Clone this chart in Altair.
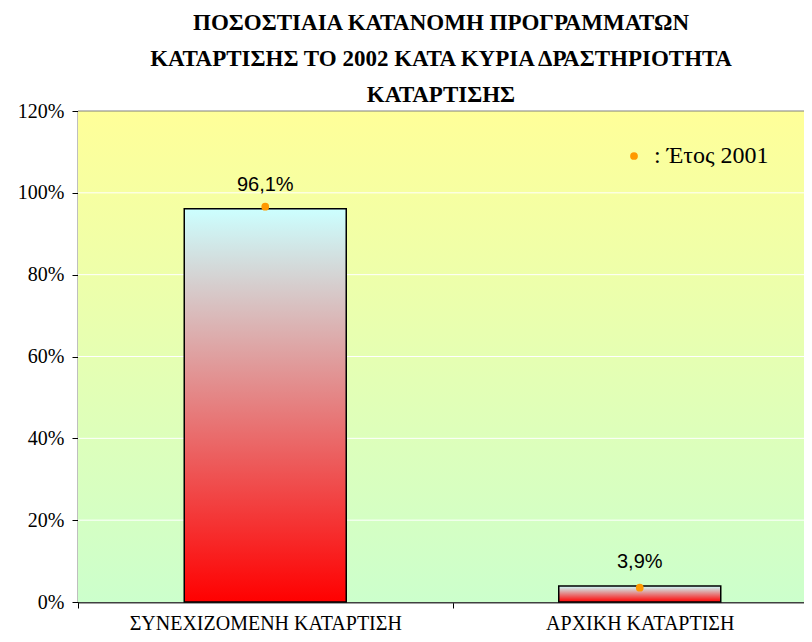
import altair as alt
import pandas as pd

# ---- data ----
categories = ["ΣΥΝΕΧΙΖΟΜΕΝΗ ΚΑΤΑΡΤΙΣΗ", "ΑΡΧΙΚΗ ΚΑΤΑΡΤΙΣΗ"]
share_2002 = [0.961, 0.039]
share_2001 = [0.966, 0.035]
value_labels = ["96,1%", "3,9%"]
y_ticks = [0.0, 0.2, 0.4, 0.6, 0.8, 1.0, 1.2]
grid_values = [0.2, 0.4, 0.6, 0.8, 1.0, 1.2]
series_2001 = ": Έτος 2001"
title_lines = [
    "ΠΟΣΟΣΤΙΑΙΑ ΚΑΤΑΝΟΜΗ ΠΡΟΓΡΑΜΜΑΤΩΝ",
    "ΚΑΤΑΡΤΙΣΗΣ ΤΟ 2002 ΚΑΤΑ ΚΥΡΙΑ ΔΡΑΣΤΗΡΙΟΤΗΤΑ",
    "ΚΑΤΑΡΤΙΣΗΣ",
]

df = pd.DataFrame({
    "cat": categories,
    "v2002": share_2002,
    "v2001": share_2001,
    "label": value_labels,
    "series": [series_2001] * len(categories),
})
grid_df = pd.DataFrame({"g": grid_values})

W, H = 726, 491
XR = 749

bg_grad = alt.Gradient(
    gradient="linear",
    stops=[alt.GradientStop(color="#FFFF99", offset=0),
           alt.GradientStop(color="#CCFFCC", offset=1)],
    x1=0, x2=0, y1=0, y2=1,
)
bar_grad = alt.Gradient(
    gradient="linear",
    stops=[alt.GradientStop(color="#CCFFFF", offset=0),
           alt.GradientStop(color="#FF0000", offset=1)],
    x1=0, x2=0, y1=0, y2=1,
)

x_axis = alt.Axis(
    title=None, labelAngle=0, tickBand="extent", tickSize=6,
    tickColor="#000000", domainColor="#404040", domainWidth=2,
    labelFont="Liberation Serif", labelFontSize=20, labelColor="#000000",
    labelPadding=5, labelLimit=0,
)
x_scale = alt.Scale(range=[0, XR], paddingInner=0, paddingOuter=0)
y_axis = alt.Axis(
    title=None, format="%", values=y_ticks, grid=False, tickSize=6,
    tickColor="#000000", domainColor="#000000", domainWidth=1.5,
    labelFont="Liberation Serif", labelFontSize=20, labelColor="#000000",
    labelPadding=8,
)
y_scale = alt.Scale(domain=[0, 1.2], nice=False)


def xe():
    return alt.X("cat:N", sort=categories, scale=x_scale, axis=x_axis)


def ye(field):
    return alt.Y(field, type="quantitative", scale=y_scale, axis=y_axis)


background = alt.Chart(df).mark_rect(fill=bg_grad).encode(
    x=alt.value(0), x2=alt.value(XR), y=alt.value(0), y2=alt.value(H)
)

grid = alt.Chart(grid_df).mark_rule(strokeWidth=1).encode(
    y=ye("g"),
    color=alt.condition(alt.datum.g >= 1.19, alt.value("#808080"), alt.value("#FFFFFF")),
)

bars = alt.Chart(df).mark_bar(
    width=162, fill=bar_grad, stroke="#000000", strokeWidth=1.5
).encode(x=xe(), y=ye("v2002"))

dots = alt.Chart(df).mark_point(filled=True, size=60, opacity=1).encode(
    x=xe(),
    y=ye("v2001"),
    color=alt.Color(
        "series:N",
        scale=alt.Scale(range=["#FF9900"]),
        legend=alt.Legend(
            title=None, orient="none", legendX=544, legendY=33,
            symbolType="circle", symbolSize=60, labelFont="Liberation Serif",
            labelFontSize=24, labelColor="#000000", labelOffset=8,
        ),
    ),
)

labels = alt.Chart(df).mark_text(
    font="Liberation Sans", fontSize=20, dy=-18, baseline="alphabetic", color="#000000"
).encode(
    x=xe(),
    y=ye("v2002"),
    text="label:N",
)

chart = alt.layer(background, grid, bars, dots, labels).properties(
    width=W,
    height=H,
    autosize=alt.AutoSizeParams(type="none"),
    padding={"left": 70, "top": 103, "right": 0, "bottom": 32},
    title=alt.TitleParams(
        text=title_lines, font="Liberation Serif", fontSize=23, fontWeight="bold",
        lineHeight=36, anchor="middle", color="#000000", offset=6, frame="group",
        dy=12,
    ),
).configure_view(stroke=None)

chart.save("out.html", embed_options={"renderer": "svg", "actions": False})
